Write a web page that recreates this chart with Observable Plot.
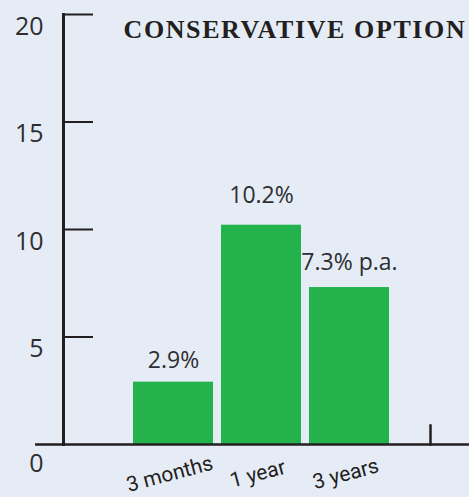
<!DOCTYPE html>
<html>
<head>
<meta charset="utf-8">
<script src="https://cdn.jsdelivr.net/npm/d3@7"></script>
<script src="https://cdn.jsdelivr.net/npm/@observablehq/plot@0.6"></script>
<style>
  html, body { margin: 0; padding: 0; background: #e5ecf6; }
</style>
</head>
<body>
<div id="chart"></div>
<script>
// Returns of the conservative option by holding period
const periods = ["3 months", "1 year", "3 years"];
const returns = [2.9, 10.2, 7.3];
const valueLabels = ["2.9%", "10.2%", "7.3% p.a."];
const yTicks = [0, 5, 10, 15, 20];
const title = "CONSERVATIVE OPTION";

const rows = periods.map((p, i) => ({period: p, value: returns[i], label: valueLabels[i]}));

// Layout
const W = 469, H = 497;
const ML = 63, MR = 0, MT = 14, MB = 53;
const ink = "#231f20";
const textInk = "#2e2e30";
const sans = "'Open Sans', 'DejaVu Sans', sans-serif";
const labelLift = [14, 22, 18]; // gap between each bar top and its value label

const chart = Plot.plot({
  width: W,
  height: H,
  marginLeft: ML,
  marginRight: MR,
  marginTop: MT,
  marginBottom: MB,
  style: {background: "#e5ecf6", overflow: "hidden"},
  x: {domain: periods, range: [124, 397.5], padding: 0.09, axis: null},
  y: {domain: [0, 20], axis: null},
  marks: [
    Plot.barY(rows, {x: "period", y: "value", fill: "#24b24c"}),
    // vertical spine of the value axis
    Plot.frame({anchor: "left", stroke: ink, strokeWidth: 3}),
    // ticks reaching into the plot
    Plot.ruleY(yTicks.filter(d => d > 0), {
      stroke: ink, strokeWidth: 2, insetRight: W - ML - MR - 30
    }),
    // baseline
    Plot.ruleY([0], {stroke: ink, strokeWidth: 2.5, insetLeft: -28}),
    // short end marker on the baseline
    Plot.frame({anchor: "right", stroke: ink, strokeWidth: 2.5, insetRight: 39, insetTop: 411}),
    // value axis labels
    Plot.text(yTicks.filter(d => d > 0), {
      y: d => d, text: d => String(d), frameAnchor: "left", textAnchor: "end",
      dx: -20, dy: 12, fontSize: 25, fontFamily: sans, fill: textInk
    }),
    Plot.text(yTicks.filter(d => d === 0), {
      y: d => d, text: d => String(d), frameAnchor: "left", textAnchor: "end",
      dx: -20, dy: 19, fontSize: 25, fontFamily: sans, fill: textInk
    }),
    // value labels above the bars
    ...rows.map((r, i) => Plot.text([r], {
      x: "period", y: "value", text: "label", lineAnchor: "bottom",
      dy: -labelLift[i], fontSize: 23, fontFamily: sans, fill: textInk
    })),
    // category labels, tilted
    Plot.text(rows, {
      x: "period", text: "period", frameAnchor: "bottom", rotate: -15,
      dx: -2, dy: 36, fontSize: 21, fontFamily: "Roboto, 'Liberation Sans', sans-serif", fill: ink
    }),
    // heading
    Plot.text([title], {
      text: d => d, frameAnchor: "top-left", textAnchor: "start", lineAnchor: "bottom",
      dx: 60, dy: 23.5, fontSize: 26, fontWeight: "bold",
      fontFamily: "'Liberation Serif', 'DejaVu Serif', serif", fill: ink,
      ariaLabel: () => "heading"
    })
  ]
});

d3.select(chart).selectAll("text[aria-label='heading']").style("letter-spacing", "1.6px");

document.getElementById("chart").appendChild(chart);
</script>
</body>
</html>
